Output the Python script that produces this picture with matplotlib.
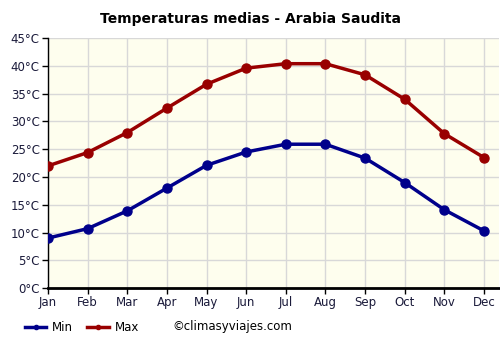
import matplotlib
matplotlib.use("Agg")
import matplotlib.pyplot as plt
from matplotlib.lines import Line2D

months = ["Jan", "Feb", "Mar", "Apr", "May", "Jun", "Jul", "Aug", "Sep", "Oct", "Nov", "Dec"]
temp_min = [9.0, 10.7, 13.9, 18.0, 22.1, 24.5, 25.9, 25.9, 23.4, 19.0, 14.1, 10.3]
temp_max = [22.0, 24.4, 28.0, 32.4, 36.7, 39.6, 40.4, 40.4, 38.4, 34.0, 27.8, 23.5]
yticks = list(range(0, 50, 5))
ytick_labels = [f"{v}°C" for v in yticks]

min_color = "#00008b"
max_color = "#990000"

fig = plt.figure(figsize=(5, 3.5), dpi=100)
ax = fig.add_axes([0.096, 0.177, 0.902, 0.714])
ax.set_facecolor("#fefeee")
x = list(range(len(months)))
ax.plot(x, temp_min, color=min_color, lw=2.5, marker="o", ms=6.5, zorder=3)
ax.plot(x, temp_max, color=max_color, lw=2.5, marker="o", ms=6.5, zorder=3)

ax.set_xlim(0, 11.38)
ax.set_ylim(0, 45)
ax.set_xticks(x)
ax.set_xticklabels(months)
ax.set_yticks(yticks)
ax.set_yticklabels(ytick_labels)
ax.grid(True, color="#d8d8d8", lw=1)
ax.set_axisbelow(True)
for s in ["top", "right"]:
    ax.spines[s].set_visible(False)
ax.spines["left"].set_color("black")
ax.spines["left"].set_linewidth(1)
ax.spines["bottom"].set_color("black")
ax.spines["bottom"].set_linewidth(2)
ax.tick_params(axis="both", labelsize=8.5, colors="black", length=4, width=1, pad=2)
for lab in ax.get_xticklabels() + ax.get_yticklabels():
    lab.set_color("#1a1a3a")

fig.text(0.5, 0.945, "Temperaturas medias - Arabia Saudita", ha="center", va="center",
         fontsize=10, fontweight="bold")

handles = [Line2D([0], [0], color=min_color, lw=2.5, marker="o", ms=3),
           Line2D([0], [0], color=max_color, lw=2.5, marker="o", ms=3)]
fig.legend(handles, ["Min", "Max"], loc="center left", bbox_to_anchor=(0.05, 0.065),
           ncol=2, frameon=False, fontsize=8.5, handlelength=1.8, columnspacing=1.2,
           handletextpad=0.5, borderaxespad=0, borderpad=0)
fig.text(0.345, 0.068, "©climasyviajes.com", ha="left", va="center", fontsize=8.5)

fig.savefig("out.png", dpi=100)
